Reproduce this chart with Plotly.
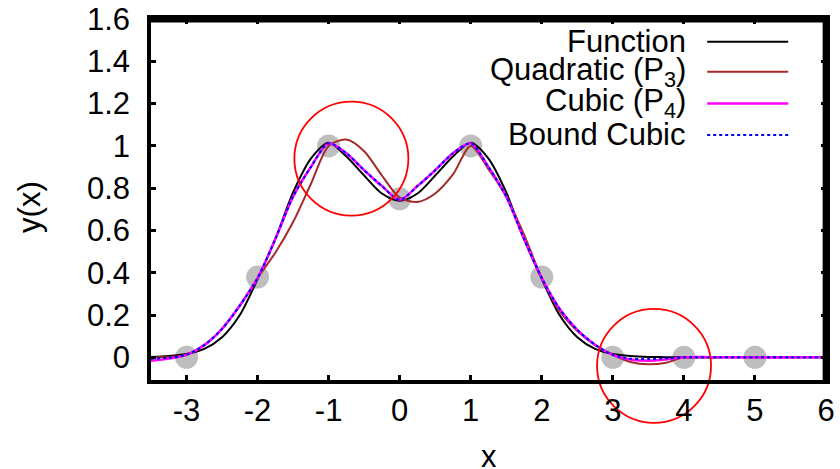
import plotly.graph_objects as go

# ---- data ----
x_pts = [-3, -2, -1, 0, 1, 2, 3, 4, 5]
y_pts = [0.0, 0.38, 1.0, 0.75, 1.0, 0.38, 0.0, 0.0, 0.0]

x_curve = [-3.5, -3.25, -3.0, -2.75, -2.5, -2.25, -2.0, -1.75, -1.5, -1.25, -1.0,
           -0.75, -0.5, -0.25, 0.0, 0.25, 0.5, 0.75, 1.0, 1.25, 1.5, 1.75, 2.0,
           2.25, 2.5, 2.75, 3.0, 3.25, 3.5, 3.75, 4.0, 4.5, 5.0, 5.5, 6.0]

function_y = [0.002, 0.006, 0.016, 0.04, 0.095, 0.2, 0.37, 0.56, 0.78, 0.94, 1.015,
              0.95, 0.86, 0.775, 0.74, 0.775, 0.86, 0.95, 1.015, 0.94, 0.78, 0.56, 0.37,
              0.2, 0.095, 0.04, 0.016, 0.006, 0.002, 0.001, 0.0, 0.0, 0.0, 0.0, 0.0]

quadratic_y = [0.0, 0.002, 0.012, 0.058, 0.135, 0.245, 0.375, 0.495, 0.64, 0.82, 1.0,
               1.03, 0.975, 0.86, 0.755, 0.735, 0.775, 0.865, 1.0, 0.89, 0.76, 0.58, 0.375,
               0.22, 0.125, 0.058, 0.012, -0.022, -0.033, -0.025, 0.0, 0.0, 0.0, 0.0, 0.0]

cubic_y = [-0.016, -0.006, 0.012, 0.058, 0.135, 0.245, 0.375, 0.56, 0.76, 0.9, 1.012,
           0.965, 0.885, 0.81, 0.745, 0.81, 0.885, 0.965, 1.012, 0.9, 0.76, 0.56, 0.375,
           0.23, 0.13, 0.06, 0.012, -0.01, -0.016, -0.01, 0.0, 0.001, 0.0, 0.0, 0.0]

bound_cubic_y = [-0.006, -0.002, 0.012, 0.058, 0.135, 0.245, 0.375, 0.56, 0.76, 0.9, 1.012,
                 0.965, 0.885, 0.81, 0.745, 0.81, 0.885, 0.965, 1.012, 0.9, 0.76, 0.56, 0.375,
                 0.23, 0.13, 0.06, 0.012, -0.006, -0.008, -0.005, 0.0, 0.0, 0.0, 0.0, 0.0]

highlight_x = [-0.68, 3.58]
highlight_y = [0.94, -0.04]

x_ticks = [-3, -2, -1, 0, 1, 2, 3, 4, 5, 6]
x_tick_labels = ["-3", "-2", "-1", "0", "1", "2", "3", "4", "5", "6"]
y_ticks = [0, 0.2, 0.4, 0.6, 0.8, 1.0, 1.2, 1.4, 1.6]
y_tick_labels = ["0", "0.2", "0.4", "0.6", "0.8", "1", "1.2", "1.4", "1.6"]

series_names = ["Function", "Quadratic (P<sub>3</sub>)", "Cubic (P<sub>4</sub>)", "Bound Cubic"]
series_colors = ["#000000", "#A52A2A", "#FF00FF", "#0000FF"]
series_dash = ["solid", "solid", "solid", "dot"]
series_width = [2, 2, 2.5, 2]

FONT = "Liberation Sans, Arial, sans-serif"
FS = 31

fig = go.Figure()

fig.add_trace(go.Scatter(x=x_pts, y=y_pts, mode="markers",
                         marker=dict(size=23, color="#BEBEBE"),
                         showlegend=False, cliponaxis=False))

for ys, col, dash, w in zip([function_y, quadratic_y, cubic_y, bound_cubic_y],
                            series_colors, series_dash, series_width):
    fig.add_trace(go.Scatter(x=x_curve, y=ys, mode="lines",
                             line=dict(color=col, width=w, dash=dash, shape="spline", smoothing=0.8),
                             showlegend=False))

fig.add_trace(go.Scatter(x=highlight_x, y=highlight_y, mode="markers",
                         marker=dict(symbol="circle-open", size=114, color="red",
                                     line=dict(width=1.8, color="red")),
                         showlegend=False, cliponaxis=False))

# manual gnuplot-style key (text right, sample line left->right)
key_rows = [0.937, 0.854, 0.766, 0.679]
for name, col, dash, w, ky in zip(series_names, series_colors, series_dash, series_width, key_rows):
    fig.add_annotation(xref="paper", yref="paper", x=0.794, y=ky, text=name,
                       showarrow=False, xanchor="right", yanchor="middle", borderpad=0,
                       font=dict(family=FONT, size=FS, color="black"))
    fig.add_shape(type="line", xref="paper", yref="paper", x0=0.824, x1=0.944, y0=ky, y1=ky,
                  line=dict(color=col, width=w, dash=dash))

# plot frame: top and right edges drawn as explicit lines
fig.add_shape(type="line", xref="paper", yref="paper", x0=-0.002, x1=1.002, y0=0.996, y1=0.996,
              line=dict(color="black", width=4), layer="above")
fig.add_shape(type="line", xref="paper", yref="paper", x0=0.998, x1=0.998, y0=0, y1=1,
              line=dict(color="black", width=4), layer="above")

# axis titles
fig.add_annotation(xref="paper", yref="paper", x=-0.179, y=0.48, text="y(x)", textangle=-90,
                   showarrow=False, xanchor="center", yanchor="middle",
                   font=dict(family=FONT, size=FS, color="black"))
fig.add_annotation(xref="paper", yref="paper", x=0.501, y=-0.213, text="x",
                   showarrow=False, xanchor="center", yanchor="middle",
                   font=dict(family=FONT, size=FS, color="black"))

axis_common = dict(showline=True, linecolor="black", linewidth=3.5, mirror="allticks",
                   ticks="inside", ticklen=5, tickwidth=2.5, tickcolor="black",
                   showgrid=False, zeroline=False, automargin=False,
                   tickfont=dict(family=FONT, size=FS, color="black"))

fig.update_layout(
    width=840, height=469,
    margin=dict(l=151, r=14, t=19, b=89),
    paper_bgcolor="white", plot_bgcolor="white",
    font=dict(family=FONT, size=FS, color="black"),
    xaxis=dict(range=[-3.5, 6], tickvals=x_ticks, ticktext=x_tick_labels,
               ticklabelstandoff=0, **axis_common),
    yaxis=dict(range=[-0.107, 1.6], tickvals=y_ticks, ticktext=y_tick_labels,
               ticklabelstandoff=11, **axis_common),
)

fig.write_html("out.html", config={"displayModeBar": False},
               post_script="document.body.style.margin='0';")
